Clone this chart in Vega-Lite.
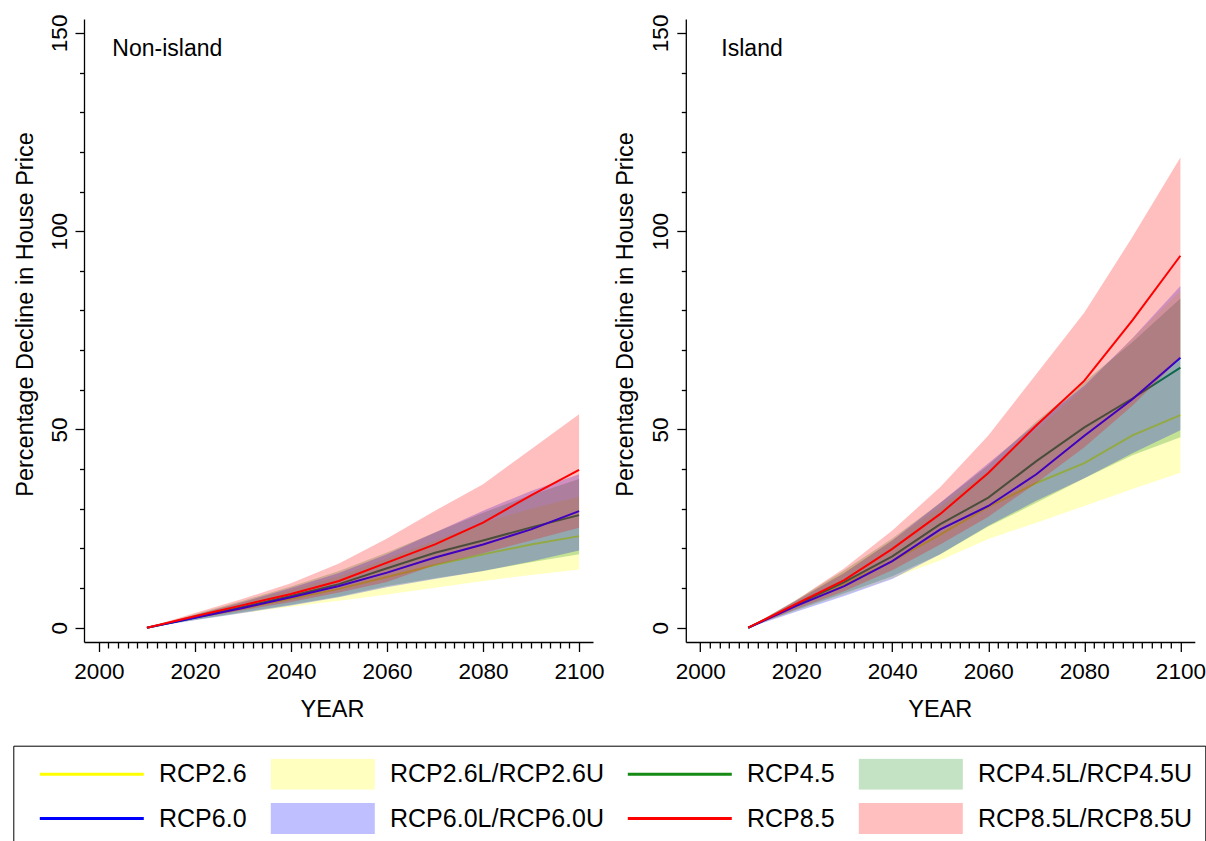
{
  "$schema": "https://vega.github.io/schema/vega-lite/v6.json",
  "padding": {"left": 12, "top": 14, "right": 0, "bottom": 0},
  "background": "white",
  "bounds": "flush",
  "spacing": 92.8,
  "config": {
    "view": {"stroke": null},
    "font": "Liberation Sans",
    "axis": {"domainColor": "black", "tickColor": "black", "labelColor": "black", "titleColor": "black", "labelFont": "Liberation Sans", "titleFont": "Liberation Sans", "labelFontSize": 22.5, "titleFontSize": 23.5, "titleFontWeight": "normal", "grid": false, "domainWidth": 1.3, "tickWidth": 1.3, "labelOverlap": false, "labelFlush": false, "labelBound": false}
  },
  "data": {"values": [
    {"p":"N","s":"RCP2.6","b":"RCP2.6L/RCP2.6U","yr":2010,"m":0,"lo":0,"hi":0},
    {"p":"N","s":"RCP2.6","b":"RCP2.6L/RCP2.6U","yr":2020,"m":2.5,"lo":2.0,"hi":3.2},
    {"p":"N","s":"RCP2.6","b":"RCP2.6L/RCP2.6U","yr":2030,"m":4.9,"lo":3.7,"hi":6.4},
    {"p":"N","s":"RCP2.6","b":"RCP2.6L/RCP2.6U","yr":2040,"m":7.3,"lo":5.3,"hi":9.6},
    {"p":"N","s":"RCP2.6","b":"RCP2.6L/RCP2.6U","yr":2050,"m":9.8,"lo":6.8,"hi":13.0},
    {"p":"N","s":"RCP2.6","b":"RCP2.6L/RCP2.6U","yr":2060,"m":12.8,"lo":8.4,"hi":17.5},
    {"p":"N","s":"RCP2.6","b":"RCP2.6L/RCP2.6U","yr":2070,"m":15.8,"lo":10.1,"hi":22.0},
    {"p":"N","s":"RCP2.6","b":"RCP2.6L/RCP2.6U","yr":2080,"m":18.5,"lo":11.8,"hi":26.5},
    {"p":"N","s":"RCP2.6","b":"RCP2.6L/RCP2.6U","yr":2090,"m":21.0,"lo":13.3,"hi":30.0},
    {"p":"N","s":"RCP2.6","b":"RCP2.6L/RCP2.6U","yr":2100,"m":23.1,"lo":14.7,"hi":33.0},
    {"p":"N","s":"RCP4.5","b":"RCP4.5L/RCP4.5U","yr":2010,"m":0,"lo":0,"hi":0},
    {"p":"N","s":"RCP4.5","b":"RCP4.5L/RCP4.5U","yr":2020,"m":2.6,"lo":2.0,"hi":3.4},
    {"p":"N","s":"RCP4.5","b":"RCP4.5L/RCP4.5U","yr":2030,"m":5.2,"lo":3.9,"hi":6.8},
    {"p":"N","s":"RCP4.5","b":"RCP4.5L/RCP4.5U","yr":2040,"m":8.0,"lo":5.8,"hi":10.4},
    {"p":"N","s":"RCP4.5","b":"RCP4.5L/RCP4.5U","yr":2050,"m":11.0,"lo":7.9,"hi":14.3},
    {"p":"N","s":"RCP4.5","b":"RCP4.5L/RCP4.5U","yr":2060,"m":15.0,"lo":10.5,"hi":19.0},
    {"p":"N","s":"RCP4.5","b":"RCP4.5L/RCP4.5U","yr":2070,"m":18.9,"lo":12.5,"hi":24.0},
    {"p":"N","s":"RCP4.5","b":"RCP4.5L/RCP4.5U","yr":2080,"m":22.0,"lo":14.3,"hi":29.0},
    {"p":"N","s":"RCP4.5","b":"RCP4.5L/RCP4.5U","yr":2090,"m":25.3,"lo":16.5,"hi":33.5},
    {"p":"N","s":"RCP4.5","b":"RCP4.5L/RCP4.5U","yr":2100,"m":28.4,"lo":18.5,"hi":37.5},
    {"p":"N","s":"RCP6.0","b":"RCP6.0L/RCP6.0U","yr":2010,"m":0,"lo":0,"hi":0},
    {"p":"N","s":"RCP6.0","b":"RCP6.0L/RCP6.0U","yr":2020,"m":2.5,"lo":1.9,"hi":3.2},
    {"p":"N","s":"RCP6.0","b":"RCP6.0L/RCP6.0U","yr":2030,"m":5.0,"lo":3.7,"hi":6.5},
    {"p":"N","s":"RCP6.0","b":"RCP6.0L/RCP6.0U","yr":2040,"m":7.7,"lo":5.6,"hi":10.0},
    {"p":"N","s":"RCP6.0","b":"RCP6.0L/RCP6.0U","yr":2050,"m":10.5,"lo":7.7,"hi":13.8},
    {"p":"N","s":"RCP6.0","b":"RCP6.0L/RCP6.0U","yr":2060,"m":13.9,"lo":10.2,"hi":18.5},
    {"p":"N","s":"RCP6.0","b":"RCP6.0L/RCP6.0U","yr":2070,"m":17.7,"lo":12.3,"hi":24.0},
    {"p":"N","s":"RCP6.0","b":"RCP6.0L/RCP6.0U","yr":2080,"m":21.0,"lo":14.3,"hi":29.5},
    {"p":"N","s":"RCP6.0","b":"RCP6.0L/RCP6.0U","yr":2090,"m":24.8,"lo":16.7,"hi":34.5},
    {"p":"N","s":"RCP6.0","b":"RCP6.0L/RCP6.0U","yr":2100,"m":29.4,"lo":19.5,"hi":38.7},
    {"p":"N","s":"RCP8.5","b":"RCP8.5L/RCP8.5U","yr":2010,"m":0,"lo":0,"hi":0},
    {"p":"N","s":"RCP8.5","b":"RCP8.5L/RCP8.5U","yr":2020,"m":2.9,"lo":2.3,"hi":3.7},
    {"p":"N","s":"RCP8.5","b":"RCP8.5L/RCP8.5U","yr":2030,"m":5.7,"lo":4.4,"hi":7.3},
    {"p":"N","s":"RCP8.5","b":"RCP8.5L/RCP8.5U","yr":2040,"m":8.5,"lo":6.5,"hi":11.2},
    {"p":"N","s":"RCP8.5","b":"RCP8.5L/RCP8.5U","yr":2050,"m":11.8,"lo":8.9,"hi":16.2},
    {"p":"N","s":"RCP8.5","b":"RCP8.5L/RCP8.5U","yr":2060,"m":16.4,"lo":11.5,"hi":22.5},
    {"p":"N","s":"RCP8.5","b":"RCP8.5L/RCP8.5U","yr":2070,"m":21.0,"lo":15.8,"hi":29.5},
    {"p":"N","s":"RCP8.5","b":"RCP8.5L/RCP8.5U","yr":2080,"m":26.5,"lo":18.8,"hi":36.2},
    {"p":"N","s":"RCP8.5","b":"RCP8.5L/RCP8.5U","yr":2090,"m":33.4,"lo":22.0,"hi":45.0},
    {"p":"N","s":"RCP8.5","b":"RCP8.5L/RCP8.5U","yr":2100,"m":39.8,"lo":25.2,"hi":53.8},
    {"p":"I","s":"RCP2.6","b":"RCP2.6L/RCP2.6U","yr":2010,"m":0,"lo":0,"hi":0},
    {"p":"I","s":"RCP2.6","b":"RCP2.6L/RCP2.6U","yr":2020,"m":5.6,"lo":4.3,"hi":6.8},
    {"p":"I","s":"RCP2.6","b":"RCP2.6L/RCP2.6U","yr":2030,"m":11.0,"lo":8.3,"hi":14.0},
    {"p":"I","s":"RCP2.6","b":"RCP2.6L/RCP2.6U","yr":2040,"m":16.8,"lo":12.5,"hi":22.0},
    {"p":"I","s":"RCP2.6","b":"RCP2.6L/RCP2.6U","yr":2050,"m":23.5,"lo":17.0,"hi":30.5},
    {"p":"I","s":"RCP2.6","b":"RCP2.6L/RCP2.6U","yr":2060,"m":30.5,"lo":22.4,"hi":39.5},
    {"p":"I","s":"RCP2.6","b":"RCP2.6L/RCP2.6U","yr":2070,"m":36.5,"lo":26.5,"hi":50.0},
    {"p":"I","s":"RCP2.6","b":"RCP2.6L/RCP2.6U","yr":2080,"m":41.5,"lo":30.7,"hi":60.5},
    {"p":"I","s":"RCP2.6","b":"RCP2.6L/RCP2.6U","yr":2090,"m":48.5,"lo":35.0,"hi":73.0},
    {"p":"I","s":"RCP2.6","b":"RCP2.6L/RCP2.6U","yr":2100,"m":53.6,"lo":39.1,"hi":85.0},
    {"p":"I","s":"RCP4.5","b":"RCP4.5L/RCP4.5U","yr":2010,"m":0,"lo":0,"hi":0},
    {"p":"I","s":"RCP4.5","b":"RCP4.5L/RCP4.5U","yr":2020,"m":5.8,"lo":4.5,"hi":7.0},
    {"p":"I","s":"RCP4.5","b":"RCP4.5L/RCP4.5U","yr":2030,"m":11.5,"lo":8.7,"hi":14.5},
    {"p":"I","s":"RCP4.5","b":"RCP4.5L/RCP4.5U","yr":2040,"m":18.0,"lo":13.0,"hi":22.5},
    {"p":"I","s":"RCP4.5","b":"RCP4.5L/RCP4.5U","yr":2050,"m":26.1,"lo":18.5,"hi":31.5},
    {"p":"I","s":"RCP4.5","b":"RCP4.5L/RCP4.5U","yr":2060,"m":32.8,"lo":25.5,"hi":41.0},
    {"p":"I","s":"RCP4.5","b":"RCP4.5L/RCP4.5U","yr":2070,"m":42.0,"lo":31.5,"hi":52.0},
    {"p":"I","s":"RCP4.5","b":"RCP4.5L/RCP4.5U","yr":2080,"m":50.5,"lo":37.7,"hi":62.0},
    {"p":"I","s":"RCP4.5","b":"RCP4.5L/RCP4.5U","yr":2090,"m":57.8,"lo":43.5,"hi":72.0},
    {"p":"I","s":"RCP4.5","b":"RCP4.5L/RCP4.5U","yr":2100,"m":65.6,"lo":48.0,"hi":83.0},
    {"p":"I","s":"RCP6.0","b":"RCP6.0L/RCP6.0U","yr":2010,"m":0,"lo":0,"hi":0},
    {"p":"I","s":"RCP6.0","b":"RCP6.0L/RCP6.0U","yr":2020,"m":5.5,"lo":4.0,"hi":6.8},
    {"p":"I","s":"RCP6.0","b":"RCP6.0L/RCP6.0U","yr":2030,"m":10.5,"lo":8.0,"hi":13.8},
    {"p":"I","s":"RCP6.0","b":"RCP6.0L/RCP6.0U","yr":2040,"m":16.8,"lo":12.3,"hi":22.0},
    {"p":"I","s":"RCP6.0","b":"RCP6.0L/RCP6.0U","yr":2050,"m":24.8,"lo":18.5,"hi":31.5},
    {"p":"I","s":"RCP6.0","b":"RCP6.0L/RCP6.0U","yr":2060,"m":30.7,"lo":25.7,"hi":41.5},
    {"p":"I","s":"RCP6.0","b":"RCP6.0L/RCP6.0U","yr":2070,"m":38.7,"lo":32.0,"hi":51.5},
    {"p":"I","s":"RCP6.0","b":"RCP6.0L/RCP6.0U","yr":2080,"m":48.4,"lo":37.7,"hi":61.0},
    {"p":"I","s":"RCP6.0","b":"RCP6.0L/RCP6.0U","yr":2090,"m":57.6,"lo":44.0,"hi":73.0},
    {"p":"I","s":"RCP6.0","b":"RCP6.0L/RCP6.0U","yr":2100,"m":68.1,"lo":49.8,"hi":86.2},
    {"p":"I","s":"RCP8.5","b":"RCP8.5L/RCP8.5U","yr":2010,"m":0,"lo":0,"hi":0},
    {"p":"I","s":"RCP8.5","b":"RCP8.5L/RCP8.5U","yr":2020,"m":6.0,"lo":4.7,"hi":7.0},
    {"p":"I","s":"RCP8.5","b":"RCP8.5L/RCP8.5U","yr":2030,"m":12.0,"lo":9.2,"hi":15.0},
    {"p":"I","s":"RCP8.5","b":"RCP8.5L/RCP8.5U","yr":2040,"m":19.9,"lo":14.5,"hi":24.5},
    {"p":"I","s":"RCP8.5","b":"RCP8.5L/RCP8.5U","yr":2050,"m":28.7,"lo":21.0,"hi":35.5},
    {"p":"I","s":"RCP8.5","b":"RCP8.5L/RCP8.5U","yr":2060,"m":39.0,"lo":28.0,"hi":48.5},
    {"p":"I","s":"RCP8.5","b":"RCP8.5L/RCP8.5U","yr":2070,"m":51.0,"lo":36.5,"hi":64.0},
    {"p":"I","s":"RCP8.5","b":"RCP8.5L/RCP8.5U","yr":2080,"m":62.3,"lo":45.5,"hi":79.5},
    {"p":"I","s":"RCP8.5","b":"RCP8.5L/RCP8.5U","yr":2090,"m":77.5,"lo":56.0,"hi":98.5},
    {"p":"I","s":"RCP8.5","b":"RCP8.5L/RCP8.5U","yr":2100,"m":93.8,"lo":68.0,"hi":118.6}
  ]},
  "hconcat": [
    {
      "width": 509, "height": 623,
      "encoding": {
        "x": {"field": "yr", "type": "quantitative", "scale": {"domain": [1996.9, 2102.9], "nice": false, "zero": false},
          "axis": {"values": [2000,2002,2004,2006,2008,2010,2012,2014,2016,2018,2020,2022,2024,2026,2028,2030,2032,2034,2036,2038,2040,2042,2044,2046,2048,2050,2052,2054,2056,2058,2060,2062,2064,2066,2068,2070,2072,2074,2076,2078,2080,2082,2084,2086,2088,2090,2092,2094,2096,2098,2100],
            "format": "d", "labelExpr": "datum.value % 20 === 0 ? datum.label : ''",
            "tickSize": {"condition": {"test": "datum.value % 20 === 0", "value": 9.5}, "value": 6},
            "labelPadding": 9, "title": "YEAR", "titleX": 248, "titleY": 74, "titleAlign": "center", "titleBaseline": "alphabetic"}},
        "y": {"field": "m", "type": "quantitative", "scale": {"domain": [-3.6, 153.5], "nice": false, "zero": false},
          "axis": {"values": [0,10,20,30,40,50,60,70,80,90,100,110,120,130,140,150],
            "labelExpr": "datum.value % 50 === 0 ? datum.label : ''",
            "tickSize": {"condition": {"test": "datum.value % 50 === 0", "value": 9}, "value": 4.5},
            "labelAngle": -90, "labelAlign": "center", "labelBaseline": "alphabetic", "labelPadding": 9,
            "title": "Percentage Decline in House Price", "titleAngle": -90, "titleX": -52, "titleY": 295, "titleAlign": "center", "titleBaseline": "alphabetic"}}
      },
      "layer": [
        {"transform": [{"filter": "datum.p === 'N' && datum.s === 'RCP2.6'"}], "mark": {"type": "area", "fillOpacity": 0.25},
          "encoding": {"y": {"field": "lo", "type": "quantitative", "scale": {"domain": [-3.6, 153.5], "nice": false, "zero": false}}, "y2": {"field": "hi"},
            "color": {"field": "b", "type": "nominal",
              "scale": {"domain": ["RCP2.6","RCP2.6L/RCP2.6U","RCP4.5","RCP4.5L/RCP4.5U","RCP6.0","RCP6.0L/RCP6.0U","RCP8.5","RCP8.5L/RCP8.5U"], "range": ["#ffff00","#ffff00","#158a15","#158a15","#0000ff","#0000ff","#ff0000","#ff0000"]},
              "legend": {"title": null, "orient": "none", "legendX": -70.7, "legendY": 726.7, "direction": "horizontal", "columns": 4,
                "clipHeight": 31, "rowPadding": 13.4, "columnPadding": 10, "padding": 13, "strokeColor": "black", "fillColor": "white",
                "symbolOffset": 12, "labelOffset": 13.7, "symbolSize": 10816, "symbolStrokeWidth": 3,
                "labelFont": "Liberation Sans", "labelFontSize": 25, "labelColor": "black", "labelLimit": 400, "labelBaseline": "middle",
                "encode": {"symbols": {"update": {
                  "shape": {"signal": "indexof(datum.value, '/') >= 0 ? 'M-1,-0.3H1V0.3H-1Z' : 'stroke'"},
                  "size": {"value": 10816},
                  "fill": {"signal": "indexof(datum.value, '/') >= 0 ? scale('color', datum.value) : 'transparent'"},
                  "fillOpacity": {"value": 0.25},
                  "stroke": {"signal": "indexof(datum.value, '/') >= 0 ? 'transparent' : scale('color', datum.value)"},
                  "strokeWidth": {"value": 3},
                  "strokeOpacity": {"signal": "indexof(datum.value, '/') >= 0 ? 0 : 1"},
                  "opacity": {"value": 1}
                }}}}}}},
        {"transform": [{"filter": "datum.p === 'N' && datum.s === 'RCP2.6'"}], "mark": {"type": "line", "strokeWidth": 2},
          "encoding": {"color": {"field": "s", "type": "nominal", "scale": {"domain": ["RCP2.6","RCP2.6L/RCP2.6U","RCP4.5","RCP4.5L/RCP4.5U","RCP6.0","RCP6.0L/RCP6.0U","RCP8.5","RCP8.5L/RCP8.5U"], "range": ["#ffff00","#ffff00","#158a15","#158a15","#0000ff","#0000ff","#ff0000","#ff0000"]}}}},
        {"transform": [{"filter": "datum.p === 'N' && datum.s === 'RCP4.5'"}], "mark": {"type": "area", "fillOpacity": 0.25},
          "encoding": {"y": {"field": "lo", "type": "quantitative", "scale": {"domain": [-3.6, 153.5], "nice": false, "zero": false}}, "y2": {"field": "hi"},
            "color": {"field": "b", "type": "nominal", "scale": {"domain": ["RCP2.6","RCP2.6L/RCP2.6U","RCP4.5","RCP4.5L/RCP4.5U","RCP6.0","RCP6.0L/RCP6.0U","RCP8.5","RCP8.5L/RCP8.5U"], "range": ["#ffff00","#ffff00","#158a15","#158a15","#0000ff","#0000ff","#ff0000","#ff0000"]}}}},
        {"transform": [{"filter": "datum.p === 'N' && datum.s === 'RCP4.5'"}], "mark": {"type": "line", "strokeWidth": 2},
          "encoding": {"color": {"field": "s", "type": "nominal", "scale": {"domain": ["RCP2.6","RCP2.6L/RCP2.6U","RCP4.5","RCP4.5L/RCP4.5U","RCP6.0","RCP6.0L/RCP6.0U","RCP8.5","RCP8.5L/RCP8.5U"], "range": ["#ffff00","#ffff00","#158a15","#158a15","#0000ff","#0000ff","#ff0000","#ff0000"]}}}},
        {"transform": [{"filter": "datum.p === 'N' && datum.s === 'RCP6.0'"}], "mark": {"type": "area", "fillOpacity": 0.25},
          "encoding": {"y": {"field": "lo", "type": "quantitative", "scale": {"domain": [-3.6, 153.5], "nice": false, "zero": false}}, "y2": {"field": "hi"},
            "color": {"field": "b", "type": "nominal", "scale": {"domain": ["RCP2.6","RCP2.6L/RCP2.6U","RCP4.5","RCP4.5L/RCP4.5U","RCP6.0","RCP6.0L/RCP6.0U","RCP8.5","RCP8.5L/RCP8.5U"], "range": ["#ffff00","#ffff00","#158a15","#158a15","#0000ff","#0000ff","#ff0000","#ff0000"]}}}},
        {"transform": [{"filter": "datum.p === 'N' && datum.s === 'RCP6.0'"}], "mark": {"type": "line", "strokeWidth": 2},
          "encoding": {"color": {"field": "s", "type": "nominal", "scale": {"domain": ["RCP2.6","RCP2.6L/RCP2.6U","RCP4.5","RCP4.5L/RCP4.5U","RCP6.0","RCP6.0L/RCP6.0U","RCP8.5","RCP8.5L/RCP8.5U"], "range": ["#ffff00","#ffff00","#158a15","#158a15","#0000ff","#0000ff","#ff0000","#ff0000"]}}}},
        {"transform": [{"filter": "datum.p === 'N' && datum.s === 'RCP8.5'"}], "mark": {"type": "area", "fillOpacity": 0.25},
          "encoding": {"y": {"field": "lo", "type": "quantitative", "scale": {"domain": [-3.6, 153.5], "nice": false, "zero": false}}, "y2": {"field": "hi"},
            "color": {"field": "b", "type": "nominal", "scale": {"domain": ["RCP2.6","RCP2.6L/RCP2.6U","RCP4.5","RCP4.5L/RCP4.5U","RCP6.0","RCP6.0L/RCP6.0U","RCP8.5","RCP8.5L/RCP8.5U"], "range": ["#ffff00","#ffff00","#158a15","#158a15","#0000ff","#0000ff","#ff0000","#ff0000"]}}}},
        {"transform": [{"filter": "datum.p === 'N' && datum.s === 'RCP8.5'"}], "mark": {"type": "line", "strokeWidth": 2},
          "encoding": {"color": {"field": "s", "type": "nominal", "scale": {"domain": ["RCP2.6","RCP2.6L/RCP2.6U","RCP4.5","RCP4.5L/RCP4.5U","RCP6.0","RCP6.0L/RCP6.0U","RCP8.5","RCP8.5L/RCP8.5U"], "range": ["#ffff00","#ffff00","#158a15","#158a15","#0000ff","#0000ff","#ff0000","#ff0000"]}}}},
        {"data": {"values": [{"label": "Non-island", "lx": 2002.8, "ly": 145.9}]}, "mark": {"type": "text", "align": "left", "baseline": "middle", "fontSize": 23, "font": "Liberation Sans", "color": "black"},
          "encoding": {"x": {"field": "lx", "type": "quantitative"}, "y": {"field": "ly", "type": "quantitative"}, "text": {"field": "label", "type": "nominal"}}}
      ]
    },
    {
      "width": 509, "height": 623,
      "encoding": {
        "x": {"field": "yr", "type": "quantitative", "scale": {"domain": [1997.0, 2103.0], "nice": false, "zero": false},
          "axis": {"values": [2000,2002,2004,2006,2008,2010,2012,2014,2016,2018,2020,2022,2024,2026,2028,2030,2032,2034,2036,2038,2040,2042,2044,2046,2048,2050,2052,2054,2056,2058,2060,2062,2064,2066,2068,2070,2072,2074,2076,2078,2080,2082,2084,2086,2088,2090,2092,2094,2096,2098,2100],
            "format": "d", "labelExpr": "datum.value % 20 === 0 ? datum.label : ''",
            "tickSize": {"condition": {"test": "datum.value % 20 === 0", "value": 9.5}, "value": 6},
            "labelPadding": 9, "title": "YEAR", "titleX": 254, "titleY": 74, "titleAlign": "center", "titleBaseline": "alphabetic"}},
        "y": {"field": "m", "type": "quantitative", "scale": {"domain": [-3.6, 153.5], "nice": false, "zero": false},
          "axis": {"values": [0,10,20,30,40,50,60,70,80,90,100,110,120,130,140,150],
            "labelExpr": "datum.value % 50 === 0 ? datum.label : ''",
            "tickSize": {"condition": {"test": "datum.value % 50 === 0", "value": 9}, "value": 4.5},
            "labelAngle": -90, "labelAlign": "center", "labelBaseline": "alphabetic", "labelPadding": 9,
            "title": "Percentage Decline in House Price", "titleAngle": -90, "titleX": -53, "titleY": 295, "titleAlign": "center", "titleBaseline": "alphabetic"}}
      },
      "layer": [
        {"transform": [{"filter": "datum.p === 'I' && datum.s === 'RCP2.6'"}], "mark": {"type": "area", "fillOpacity": 0.25},
          "encoding": {"y": {"field": "lo", "type": "quantitative", "scale": {"domain": [-3.6, 153.5], "nice": false, "zero": false}}, "y2": {"field": "hi"},
            "color": {"field": "b", "type": "nominal", "scale": {"domain": ["RCP2.6","RCP2.6L/RCP2.6U","RCP4.5","RCP4.5L/RCP4.5U","RCP6.0","RCP6.0L/RCP6.0U","RCP8.5","RCP8.5L/RCP8.5U"], "range": ["#ffff00","#ffff00","#158a15","#158a15","#0000ff","#0000ff","#ff0000","#ff0000"]}}}},
        {"transform": [{"filter": "datum.p === 'I' && datum.s === 'RCP2.6'"}], "mark": {"type": "line", "strokeWidth": 2},
          "encoding": {"color": {"field": "s", "type": "nominal", "scale": {"domain": ["RCP2.6","RCP2.6L/RCP2.6U","RCP4.5","RCP4.5L/RCP4.5U","RCP6.0","RCP6.0L/RCP6.0U","RCP8.5","RCP8.5L/RCP8.5U"], "range": ["#ffff00","#ffff00","#158a15","#158a15","#0000ff","#0000ff","#ff0000","#ff0000"]}}}},
        {"transform": [{"filter": "datum.p === 'I' && datum.s === 'RCP4.5'"}], "mark": {"type": "area", "fillOpacity": 0.25},
          "encoding": {"y": {"field": "lo", "type": "quantitative", "scale": {"domain": [-3.6, 153.5], "nice": false, "zero": false}}, "y2": {"field": "hi"},
            "color": {"field": "b", "type": "nominal", "scale": {"domain": ["RCP2.6","RCP2.6L/RCP2.6U","RCP4.5","RCP4.5L/RCP4.5U","RCP6.0","RCP6.0L/RCP6.0U","RCP8.5","RCP8.5L/RCP8.5U"], "range": ["#ffff00","#ffff00","#158a15","#158a15","#0000ff","#0000ff","#ff0000","#ff0000"]}}}},
        {"transform": [{"filter": "datum.p === 'I' && datum.s === 'RCP4.5'"}], "mark": {"type": "line", "strokeWidth": 2},
          "encoding": {"color": {"field": "s", "type": "nominal", "scale": {"domain": ["RCP2.6","RCP2.6L/RCP2.6U","RCP4.5","RCP4.5L/RCP4.5U","RCP6.0","RCP6.0L/RCP6.0U","RCP8.5","RCP8.5L/RCP8.5U"], "range": ["#ffff00","#ffff00","#158a15","#158a15","#0000ff","#0000ff","#ff0000","#ff0000"]}}}},
        {"transform": [{"filter": "datum.p === 'I' && datum.s === 'RCP6.0'"}], "mark": {"type": "area", "fillOpacity": 0.25},
          "encoding": {"y": {"field": "lo", "type": "quantitative", "scale": {"domain": [-3.6, 153.5], "nice": false, "zero": false}}, "y2": {"field": "hi"},
            "color": {"field": "b", "type": "nominal", "scale": {"domain": ["RCP2.6","RCP2.6L/RCP2.6U","RCP4.5","RCP4.5L/RCP4.5U","RCP6.0","RCP6.0L/RCP6.0U","RCP8.5","RCP8.5L/RCP8.5U"], "range": ["#ffff00","#ffff00","#158a15","#158a15","#0000ff","#0000ff","#ff0000","#ff0000"]}}}},
        {"transform": [{"filter": "datum.p === 'I' && datum.s === 'RCP6.0'"}], "mark": {"type": "line", "strokeWidth": 2},
          "encoding": {"color": {"field": "s", "type": "nominal", "scale": {"domain": ["RCP2.6","RCP2.6L/RCP2.6U","RCP4.5","RCP4.5L/RCP4.5U","RCP6.0","RCP6.0L/RCP6.0U","RCP8.5","RCP8.5L/RCP8.5U"], "range": ["#ffff00","#ffff00","#158a15","#158a15","#0000ff","#0000ff","#ff0000","#ff0000"]}}}},
        {"transform": [{"filter": "datum.p === 'I' && datum.s === 'RCP8.5'"}], "mark": {"type": "area", "fillOpacity": 0.25},
          "encoding": {"y": {"field": "lo", "type": "quantitative", "scale": {"domain": [-3.6, 153.5], "nice": false, "zero": false}}, "y2": {"field": "hi"},
            "color": {"field": "b", "type": "nominal", "scale": {"domain": ["RCP2.6","RCP2.6L/RCP2.6U","RCP4.5","RCP4.5L/RCP4.5U","RCP6.0","RCP6.0L/RCP6.0U","RCP8.5","RCP8.5L/RCP8.5U"], "range": ["#ffff00","#ffff00","#158a15","#158a15","#0000ff","#0000ff","#ff0000","#ff0000"]}}}},
        {"transform": [{"filter": "datum.p === 'I' && datum.s === 'RCP8.5'"}], "mark": {"type": "line", "strokeWidth": 2},
          "encoding": {"color": {"field": "s", "type": "nominal", "scale": {"domain": ["RCP2.6","RCP2.6L/RCP2.6U","RCP4.5","RCP4.5L/RCP4.5U","RCP6.0","RCP6.0L/RCP6.0U","RCP8.5","RCP8.5L/RCP8.5U"], "range": ["#ffff00","#ffff00","#158a15","#158a15","#0000ff","#0000ff","#ff0000","#ff0000"]}}}},
        {"data": {"values": [{"label": "Island", "lx": 2004.4, "ly": 145.9}]}, "mark": {"type": "text", "align": "left", "baseline": "middle", "fontSize": 23, "font": "Liberation Sans", "color": "black"},
          "encoding": {"x": {"field": "lx", "type": "quantitative"}, "y": {"field": "ly", "type": "quantitative"}, "text": {"field": "label", "type": "nominal"}}}
      ]
    }
  ]
}
